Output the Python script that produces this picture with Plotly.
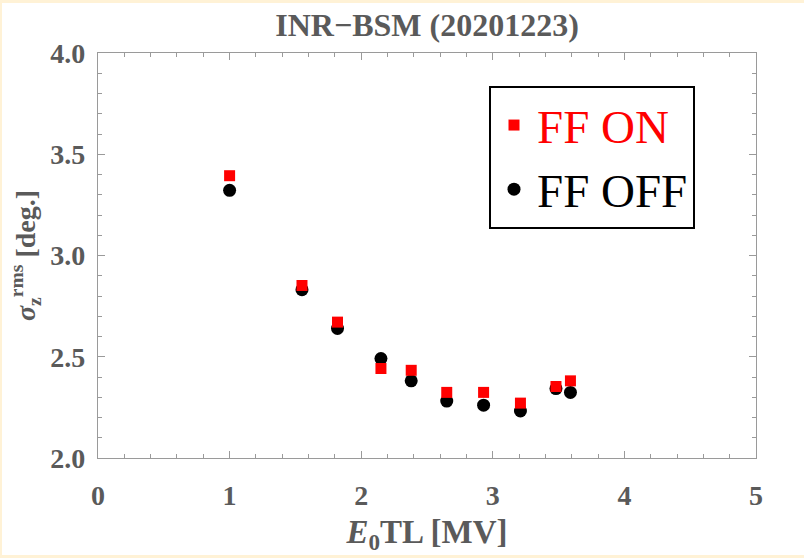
import plotly.graph_objects as go

# Data
e0tl = [1.00, 1.55, 1.82, 2.15, 2.38, 2.65, 2.93, 3.21, 3.48, 3.59]
sigma_ff_on = [3.394, 2.852, 2.671, 2.442, 2.433, 2.324, 2.324, 2.271, 2.353, 2.381]
sigma_ff_off = [3.322, 2.831, 2.640, 2.491, 2.381, 2.281, 2.261, 2.232, 2.343, 2.324]
series_names = ["FF ON", "FF OFF"]
x_ticks = [0, 1, 2, 3, 4, 5]
y_ticks = [2.0, 2.5, 3.0, 3.5, 4.0]

GRAY = "#5a5a5a"
AX = "#9a9a9a"
SERIF = "Liberation Serif, Times New Roman, serif"

fig = go.Figure()
fig.add_trace(go.Scatter(
    x=e0tl, y=sigma_ff_off, mode="markers", name=series_names[1],
    marker=dict(symbol="circle", size=13, color="black", line=dict(width=0)),
    legendrank=2,
))
fig.add_trace(go.Scatter(
    x=e0tl, y=sigma_ff_on, mode="markers",
    name=f"<span style='color:red'>{series_names[0]}</span>",
    marker=dict(symbol="square", size=11, color="red", line=dict(width=0)),
    legendrank=1,
))

# plot area geometry (pixels): left 98, right 756, top 53, bottom 458
L, R, T, B = 98, 48, 53, 100
W, H = 804, 558
pw, ph = W - L - R, H - T - B


def px_x(p):
    return (p - L) / pw


def px_y(p):
    return (H - B - p) / ph


BEIGE = "#fff2d6"
shapes = [
    dict(type="rect", xref="paper", yref="paper", x0=px_x(0), x1=px_x(W), y0=px_y(3), y1=px_y(0),
         fillcolor=BEIGE, line=dict(width=0), layer="above"),
    dict(type="rect", xref="paper", yref="paper", x0=px_x(0), x1=px_x(2), y0=px_y(H), y1=px_y(0),
         fillcolor=BEIGE, line=dict(width=0), layer="above"),
    dict(type="rect", xref="paper", yref="paper", x0=px_x(0), x1=px_x(W), y0=px_y(H), y1=px_y(555),
         fillcolor=BEIGE, line=dict(width=0), layer="above"),
]

fig.update_layout(
    width=W, height=H,
    margin=dict(l=L, r=R, t=T, b=B, pad=0),
    paper_bgcolor="white", plot_bgcolor="white",
    font=dict(family=SERIF, color=GRAY),
    title=dict(text="<b>INR−BSM (20201223)</b>", x=px_x(427), xref="paper", xanchor="center",
               y=1 - 25 / H, yanchor="middle", font=dict(size=32, color=GRAY, family=SERIF)),
    shapes=shapes,
    showlegend=True,
    legend=dict(
        x=px_x(489), y=px_y(86), xanchor="left", yanchor="top",
        bgcolor="white", bordercolor="black", borderwidth=2,
        font=dict(size=47, family=SERIF, color="black"),
        itemsizing="trace", itemwidth=36, tracegroupgap=0,
    ),
)

fig.update_xaxes(
    range=[0, 5], tickvals=x_ticks, ticktext=[f"<b>{v}</b>" for v in x_ticks],
    showgrid=False, zeroline=False, showline=True, linecolor=AX, linewidth=1.2, mirror="allticks",
    ticks="inside", ticklen=7, tickcolor=AX, tickwidth=1,
    minor=dict(ticks="inside", ticklen=4, dtick=0.2, tickcolor=AX, showgrid=False),
    tickfont=dict(size=28, color=GRAY, family=SERIF), ticklabelstandoff=12,
    title=dict(text="<b><i>E</i><sub>0</sub>TL [MV]</b>", font=dict(size=33, color=GRAY, family=SERIF), standoff=10),
)
fig.update_yaxes(
    range=[2, 4], tickvals=y_ticks, ticktext=[f"<b>{v:.1f}</b>" for v in y_ticks],
    showgrid=False, zeroline=False, showline=True, linecolor=AX, linewidth=1.2, mirror="allticks",
    ticks="inside", ticklen=7, tickcolor=AX, tickwidth=1,
    minor=dict(ticks="inside", ticklen=4, dtick=0.1, tickcolor=AX, showgrid=False),
    tickfont=dict(size=28, color=GRAY, family=SERIF), ticklabelstandoff=6,
    title=dict(text="<b><i>σ</i><sub>z</sub><sup>rms</sup> [deg.]</b>", font=dict(size=28, color=GRAY, family=SERIF), standoff=6),
)

fig.write_html("out.html")
